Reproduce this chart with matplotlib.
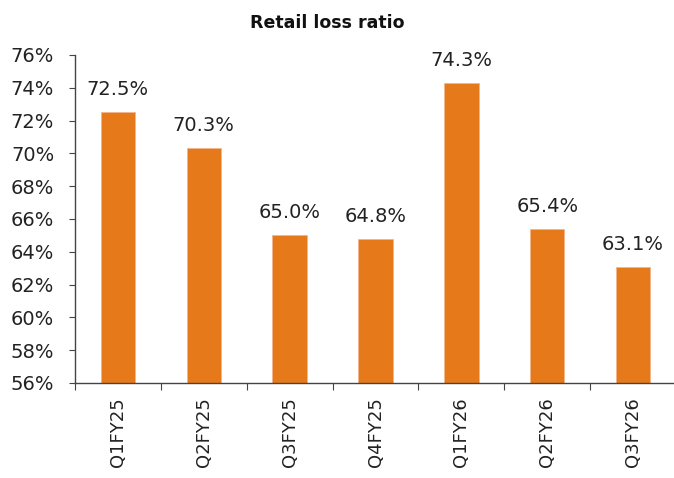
import matplotlib
matplotlib.use('Agg')
import matplotlib.pyplot as plt
import numpy as np

quarters = ['Q1FY25', 'Q2FY25', 'Q3FY25', 'Q4FY25', 'Q1FY26', 'Q2FY26', 'Q3FY26']
loss_ratio = [72.5, 70.3, 65.0, 64.8, 74.3, 65.4, 63.1]
y_ticks = [56, 58, 60, 62, 64, 66, 68, 70, 72, 74, 76]

BAR_COLOR = '#E67A1A'
TEXT_COLOR = '#222222'

plt.rcParams['font.family'] = 'DejaVu Sans'

fig = plt.figure(figsize=(6.74, 4.78), dpi=100)
ax = fig.add_axes([75 / 674, 1 - 383 / 478, 601 / 674, (383 - 55) / 478])

xPos = np.arange(len(quarters))
ax.bar(xPos, loss_ratio, width=0.4, color=BAR_COLOR, edgecolor='#F2B58A', linewidth=0.6, zorder=2)

# value labels above each bar
for x, v in zip(xPos, loss_ratio):
    ax.annotate(f'{v:.1f}%', xy=(x, v), xytext=(0, 13), textcoords='offset pixels',
                ha='center', va='bottom', fontsize=14, color=TEXT_COLOR)

ax.set_ylim(56, 76)
ax.set_xlim(-0.5, len(quarters) - 0.5)
ax.set_yticks(y_ticks)
ax.set_yticklabels([f'{t}%' for t in y_ticks], fontsize=14, color=TEXT_COLOR)

# category ticks sit on the boundaries, labels in the middle
ax.set_xticks(np.arange(len(quarters) + 1) - 0.5)
ax.set_xticklabels([])
ax.set_xticks(xPos, minor=True)
ax.set_xticklabels(quarters, minor=True, rotation=90, fontsize=13, color=TEXT_COLOR)
ax.tick_params(axis='x', which='minor', length=0, pad=10.5)
ax.tick_params(axis='x', which='major', length=5, width=0.8, color='#444444')
ax.tick_params(axis='y', length=4.5, width=0.8, color='#444444', pad=10.5)

for side in ['top', 'right']:
    ax.spines[side].set_visible(False)
for side in ['left', 'bottom']:
    ax.spines[side].set_color('#444444')
    ax.spines[side].set_linewidth(1)
ax.spines['bottom'].set_clip_on(False)

fig.text(327 / 674, 1 - 23 / 478, 'Retail loss ratio', ha='center', va='center',
         fontsize=12.5, fontweight='bold', color='#111111')

fig.savefig('out.png', dpi=100)
